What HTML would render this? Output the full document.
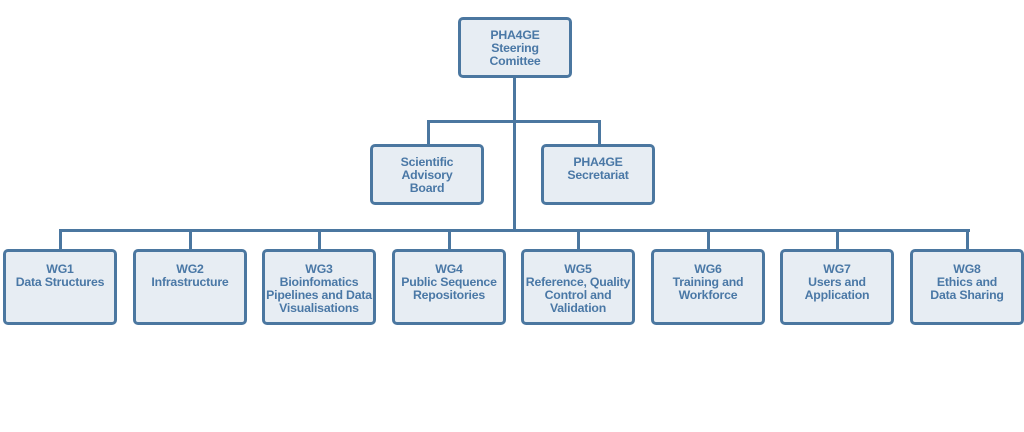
<!DOCTYPE html>
<html><head><style>
body{margin:0;width:1024px;height:432px;background:#fff;position:relative;overflow:hidden;font-family:"Liberation Sans",sans-serif}
.b{position:absolute;box-sizing:border-box;border:3px solid #4b77a0;border-radius:5px;background:#e7edf3;color:#4a78a6;font-weight:bold;font-size:12.3px;line-height:13px;text-align:center;padding-top:var(--p,8px);letter-spacing:-0.2px}
.l{position:absolute;background:#4b77a0}
</style></head><body>
<div class="l" style="left:513px;top:76px;width:3px;height:156px"></div>
<div class="l" style="left:427px;top:120px;width:174px;height:3px"></div>
<div class="l" style="left:427px;top:120px;width:3px;height:26px"></div>
<div class="l" style="left:598px;top:120px;width:3px;height:26px"></div>
<div class="l" style="left:59px;top:229px;width:911px;height:3px"></div>
<div class="l" style="left:59px;top:229px;width:3px;height:22px"></div>
<div class="l" style="left:189px;top:229px;width:3px;height:22px"></div>
<div class="l" style="left:318px;top:229px;width:3px;height:22px"></div>
<div class="l" style="left:448px;top:229px;width:3px;height:22px"></div>
<div class="l" style="left:577px;top:229px;width:3px;height:22px"></div>
<div class="l" style="left:707px;top:229px;width:3px;height:22px"></div>
<div class="l" style="left:836px;top:229px;width:3px;height:22px"></div>
<div class="l" style="left:966px;top:229px;width:3px;height:22px"></div>

<div class="b" style="left:458px;top:17px;width:114px;height:61px;--p:9px">PHA4GE<br>Steering<br>Comittee</div>
<div class="b" style="left:370px;top:144px;width:114px;height:61px;--p:9px">Scientific<br>Advisory<br>Board</div>
<div class="b" style="left:541px;top:144px;width:114px;height:61px;--p:9px">PHA4GE<br>Secretariat</div>

<div class="b" style="left:3px;top:249px;width:114px;height:76px;--p:11px">WG1<br>Data Structures</div>
<div class="b" style="left:133px;top:249px;width:114px;height:76px;--p:11px">WG2<br>Infrastructure</div>
<div class="b" style="left:262px;top:249px;width:114px;height:76px;--p:11px">WG3<br>Bioinfomatics<br>Pipelines and Data<br>Visualisations</div>
<div class="b" style="left:392px;top:249px;width:114px;height:76px;--p:11px">WG4<br>Public Sequence<br>Repositories</div>
<div class="b" style="left:521px;top:249px;width:114px;height:76px;--p:11px">WG5<br>Reference, Quality<br>Control and<br>Validation</div>
<div class="b" style="left:651px;top:249px;width:114px;height:76px;--p:11px">WG6<br>Training and<br>Workforce</div>
<div class="b" style="left:780px;top:249px;width:114px;height:76px;--p:11px">WG7<br>Users and<br>Application</div>
<div class="b" style="left:910px;top:249px;width:114px;height:76px;--p:11px">WG8<br>Ethics and<br>Data Sharing</div>
</body></html>
